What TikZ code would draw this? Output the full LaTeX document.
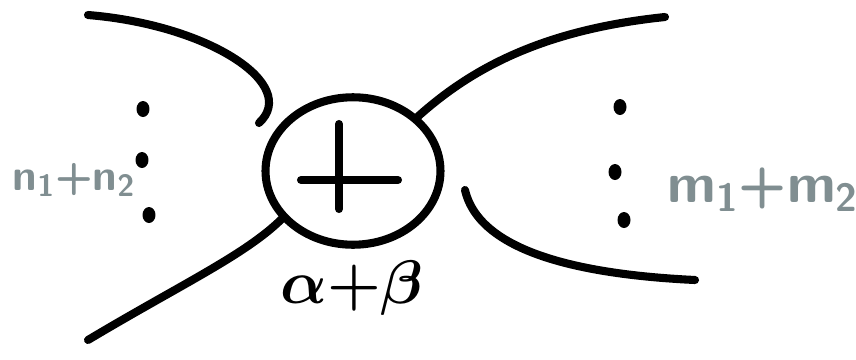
\RequirePackage{fix-cm}
\documentclass[tikz,border=0pt]{standalone}
\usepackage{amsmath,amssymb}
\usepackage{tikz}
\usepackage{xcolor}
\usetikzlibrary{shapes.geometric,calc}
\definecolor{labelgray}{RGB}{128,142,145}

\begin{document}
\begin{tikzpicture}[x=0.02cm,y=-0.02cm,line cap=round,every node/.style={font=\small},
  leg/.style={line width=4.6pt},
  dotmark/.style={ellipse,fill=black,inner sep=0pt,minimum width=0.26cm,minimum height=0.32cm},
  countlabel/.style={text=labelgray,font=\fontsize{#1}{34}\selectfont\sffamily\bfseries}]
\useasboundingbox (0,0) rectangle (856,359);
% the vertex
\node[ellipse,draw,line width=4.6pt,minimum width=3.5cm,minimum height=2.95cm] (circ) at (353,171) {};
\draw[leg] ($(circ)+(-52,9)$) -- ($(circ)+(45,9)$);
\draw[leg] ($(circ)+(-14,-47)$) -- ($(circ)+(-14,38)$);
\node[font=\fontsize{35}{40}\selectfont] (wt) at (352,288) {$\boldsymbol{\alpha{+}\beta}$};
% incoming legs
\coordinate (inA) at (88,15);
\coordinate (inAend) at (259,123);
\coordinate (inB) at (88,340);
\draw[leg] (inA) .. controls (210,25) and (300,85) .. (inAend);
\draw[leg] (inB) .. controls (180,285) and (245,255) .. (circ.214);
% outgoing legs
\coordinate (outA) at (665,17);
\coordinate (outB) at (695,280);
\coordinate (outBstart) at (465,190);
\draw[leg] (circ.40) .. controls (470,70) and (540,30) .. (outA);
\draw[leg] (outBstart) .. controls (480,255) and (590,275) .. (outB);
% dots
\node[dotmark] (dl1) at (143,109) {};
\node[dotmark] (dl2) at (142,160) {};
\node[dotmark] (dl3) at (149,215) {};
\node[dotmark] (dr1) at (620,107) {};
\node[dotmark] (dr2) at (615,172) {};
\node[dotmark] (dr3) at (624,220) {};
% counts
\node[countlabel=25] (nin) at (74,180) {n\textsubscript{1}+n\textsubscript{2}};
\node[countlabel=32] (mout) at (763,190) {m\textsubscript{1}+m\textsubscript{2}};
\end{tikzpicture}
\end{document}
